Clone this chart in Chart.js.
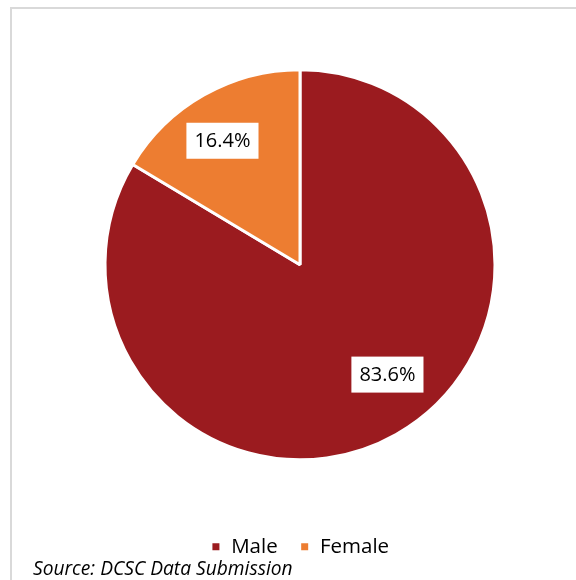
<!DOCTYPE html>
<html>
<head>
<meta charset="utf-8">
<script src="https://cdn.jsdelivr.net/npm/chart.js@4/dist/chart.umd.min.js"></script>
<style>
  html, body { margin: 0; padding: 0; background: #fff; overflow: hidden; }
  #wrap { position: relative; width: 576px; height: 580px; overflow: hidden; }
  #frame { position: absolute; left: 10px; top: 7px; width: 620px; height: 620px; border: 2px solid #d9d9d9; box-sizing: border-box; }
  #c { position: absolute; left: 0; top: 0; }
  #src { position: absolute; left: 33px; top: 554px; font-family: "Open Sans", sans-serif; font-style: italic; font-size: 19.2px; color: #000; white-space: nowrap; }
</style>
</head>
<body>
<div id="wrap">
  <div id="frame"></div>
  <canvas id="c" width="576" height="580"></canvas>
  <div id="src">Source: DCSC Data Submission</div>
</div>
<script>
const categories = ["Male", "Female"];
const values = [83.6, 16.4];
const colors = ["#9B1B1F", "#ED7D31"];

const labelPlugin = {
  id: 'boxLabels',
  afterDatasetsDraw(chart, args, opts) {
    const ctx = chart.ctx;
    const meta = chart.getDatasetMeta(0);
    meta.data.forEach((arc, i) => {
      const p = arc.getProps(['x', 'y', 'startAngle', 'endAngle', 'outerRadius'], true);
      const mid = (p.startAngle + p.endAngle) / 2 + (opts.angleOffsets[i] || 0) * Math.PI / 180;
      const r = p.outerRadius * (opts.radial[i] || 0.72);
      const cx = p.x + Math.cos(mid) * r;
      const cy = p.y + Math.sin(mid) * r;
      const text = values[i].toFixed(1) + '%';
      ctx.save();
      ctx.font = opts.font;
      const w = ctx.measureText(text).width;
      const bw = w + 16, bh = 36;
      ctx.fillStyle = '#ffffff';
      ctx.fillRect(cx - bw / 2, cy - bh / 2, bw, bh);
      ctx.fillStyle = '#000000';
      ctx.textAlign = 'center';
      ctx.textBaseline = 'middle';
      ctx.fillText(text, cx, cy + 1);
      ctx.restore();
    });
  }
};

new Chart(document.getElementById('c'), {
  type: 'pie',
  data: {
    labels: categories,
    datasets: [{
      data: values,
      backgroundColor: colors,
      borderColor: '#ffffff',
      borderWidth: 3,
      radius: 195
    }]
  },
  options: {
    responsive: false,
    animation: false,
    layout: { padding: { top: 15, left: 24, right: 0, bottom: 13 } },
    plugins: {
      tooltip: { enabled: false },
      legend: {
        display: true,
        position: 'bottom',
        labels: {
          boxWidth: 10, boxHeight: 10, padding: 22,
          color: '#000',
          font: { family: '"Open Sans", sans-serif', size: 20.5 }
        }
      },
      boxLabels: {
        font: '20px "Open Sans", sans-serif',
        angleOffsets: [-9, -2.5],
        radial: [0.72, 0.75]
      }
    }
  },
  plugins: [labelPlugin]
});
</script>
</body>
</html>
